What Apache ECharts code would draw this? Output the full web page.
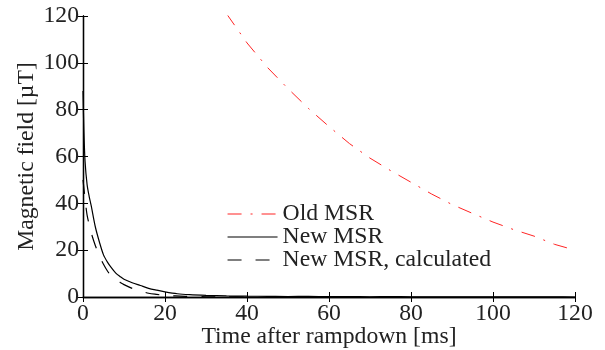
<!DOCTYPE html>
<html>
<head>
<meta charset="utf-8">
<script src="https://cdn.jsdelivr.net/npm/echarts@6/dist/echarts.min.js"></script>
<style>
html,body{margin:0;padding:0;background:#fff;}
#chart{width:605px;height:350px;}
</style>
</head>
<body>
<div id="chart"></div>
<script>
// Data
var oldTime = [35, 40, 45, 50, 55, 60, 65, 70, 75, 80, 85, 90, 95, 100, 105, 110, 115, 120];
var oldField = [121, 108.5, 98, 89, 80.5, 72.8, 65.5, 59.3, 54, 49, 44, 39.5, 35.7, 32, 28.8, 26, 22.5, 20];

var newTime = [0, 0.2, 0.5, 1, 1.5, 2, 3, 4, 5, 6, 7, 8, 9, 10, 12, 14, 16, 18, 20, 23, 26, 30, 35, 40, 45, 50, 55, 60, 65, 70, 75, 80, 85, 90, 95, 100, 105, 110, 115, 120];
var newField = [88, 72, 58, 48, 43, 39, 30, 23.5, 18, 14.8, 12.3, 10.2, 8.8, 7.6, 6.1, 4.9, 3.7, 2.9, 2.2, 1.4, 1.0, 0.7, 0.45, 0.35, 0.3, 0.2, 0.25, 0.15, 0.2, 0.1, 0.15, 0.1, 0.1, 0.05, 0.1, 0.05, 0.05, 0.05, 0.05, 0];

var calcTime = [0, 0.5, 1, 2, 3, 4, 5, 6, 7, 8, 9, 10, 12, 14, 16, 18, 20, 25, 30, 35, 40];
var calcField = [50, 42, 35, 27.5, 22, 17.5, 14, 11, 8.7, 7.4, 6.3, 5.3, 3.7, 2.6, 1.6, 1.1, 0.7, 0.3, 0.1, 0.05, 0];

var xTicks = {min: 0, max: 120, interval: 20};
var yTicks = {min: 0, max: 120, interval: 20};
var seriesNames = ['Old MSR', 'New MSR', 'New MSR, calculated'];
var seriesColors = ['#ff2424', '#000000', '#000000'];

function pairs(xs, ys) { return xs.map(function (x, i) { return [x, ys[i]]; }); }

var FONT = '"Liberation Serif", "DejaVu Serif", serif';
var FS = 23.7;
var chart = echarts.init(document.getElementById('chart'), null, {renderer: 'canvas'});
var axisLine = {show: true, lineStyle: {color: '#000', width: 1.3}};
var tick = {show: true, inside: true, length: 5, lineStyle: {color: '#000', width: 1}};

chart.setOption({
  animation: false,
  backgroundColor: '#fff',
  grid: {left: 83, top: 16, right: 30, bottom: 53, containLabel: false, outerBoundsMode: 'none'},
  legend: {
    orient: 'vertical',
    left: 222,
    top: 197,
    itemWidth: 50,
    itemHeight: 14,
    itemGap: -1,
    itemStyle: {opacity: 0},
    textStyle: {fontFamily: FONT, fontSize: FS, color: '#222', lineHeight: 23},
    data: seriesNames.map(function (n, i) {
      return {name: n, lineStyle: {color: seriesColors[i], width: 1.1}};
    })
  },
  xAxis: [{
    type: 'value', min: xTicks.min, max: xTicks.max, interval: xTicks.interval,
    position: 'bottom',
    name: 'Time after rampdown [ms]', nameLocation: 'middle', nameGap: 28,
    nameMoveOverlap: false,
    nameTextStyle: {fontFamily: FONT, fontSize: FS, color: '#222'},
    axisLine: axisLine, axisTick: tick, splitLine: {show: false},
    axisLabel: {fontFamily: FONT, fontSize: FS, color: '#222', margin: 5}
  }, {
    type: 'value', min: xTicks.min, max: xTicks.max, interval: xTicks.interval,
    position: 'top', axisLine: axisLine, axisTick: tick, splitLine: {show: false},
    axisLabel: {show: false}
  }],
  yAxis: [{
    type: 'value', min: yTicks.min, max: yTicks.max, interval: yTicks.interval,
    position: 'left',
    name: 'Magnetic field [\u00b5T]', nameLocation: 'middle', nameGap: 44,
    nameMoveOverlap: false,
    nameTextStyle: {fontFamily: FONT, fontSize: FS, color: '#222'},
    axisLine: axisLine, axisTick: tick, splitLine: {show: false},
    axisLabel: {fontFamily: FONT, fontSize: FS, color: '#222', margin: 4}
  }, {
    type: 'value', min: yTicks.min, max: yTicks.max, interval: yTicks.interval,
    position: 'right', axisLine: axisLine, axisTick: tick, splitLine: {show: false},
    axisLabel: {show: false}
  }],
  series: [{
    name: seriesNames[0], type: 'line', showSymbol: false, symbol: 'none',
    data: pairs(oldTime, oldField), clip: true,
    lineStyle: {color: seriesColors[0], width: 1, type: [14, 9, 2, 9]},
    itemStyle: {color: seriesColors[0]}
  }, {
    name: seriesNames[1], type: 'line', showSymbol: false, symbol: 'none',
    data: pairs(newTime, newField), clip: true, smooth: 0.3,
    lineStyle: {color: seriesColors[1], width: 1.2},
    itemStyle: {color: seriesColors[1]}
  }, {
    name: seriesNames[2], type: 'line', showSymbol: false, symbol: 'none',
    data: pairs(calcTime, calcField), clip: true, smooth: 0.3,
    lineStyle: {color: seriesColors[2], width: 1.2, type: [14, 14]},
    itemStyle: {color: seriesColors[2]}
  }]
});
</script>
</body>
</html>
